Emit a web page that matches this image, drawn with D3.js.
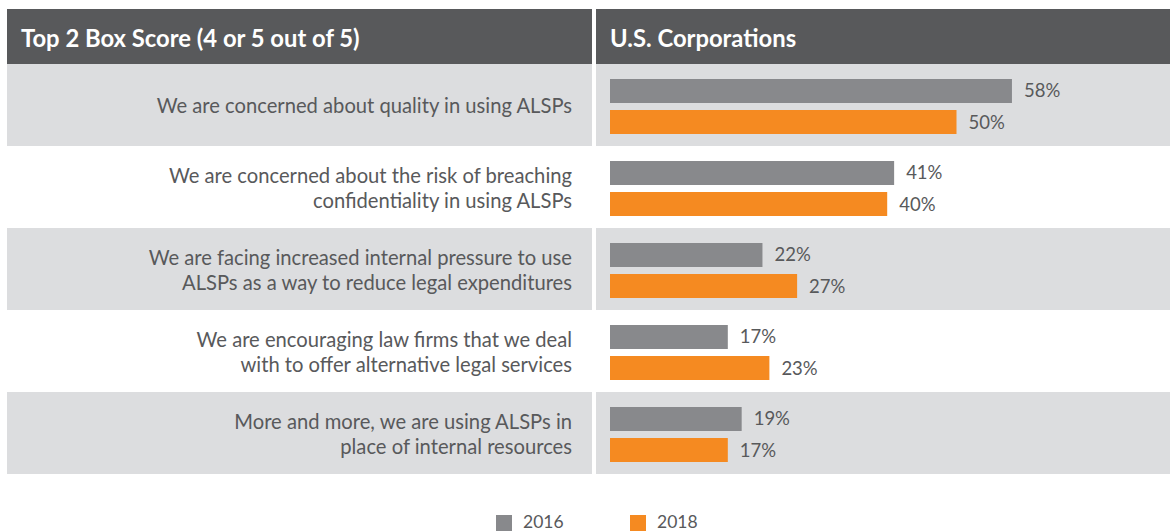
<!DOCTYPE html>
<html>
<head>
<meta charset="utf-8">
<script src="https://cdn.jsdelivr.net/npm/d3@7"></script>
<style>
	body { margin: 0; background: #fff; }
	text { font-family: Lato, "Open Sans", sans-serif; }
</style>
</head>
<body>
<div id="dataviz-container"></div>
<script>
var categories = [
	["We are concerned about quality in using ALSPs"],
	["We are concerned about the risk of breaching", "confidentiality in using ALSPs"],
	["We are facing increased internal pressure to use", "ALSPs as a way to reduce legal expenditures"],
	["We are encouraging law firms that we deal", "with to offer alternative legal services"],
	["More and more, we are using ALSPs in", "place of internal resources"]
];
var series = ["2016", "2018"];
var values2016 = [58, 41, 22, 17, 19];
var values2018 = [50, 40, 27, 23, 17];
var headers = ["Top 2 Box Score (4 or 5 out of 5)", "U.S. Corporations"];

var width = 1170,
	height = 531,
	textColor = "#58595b",
	headerColor = "#58595b",
	rowColor = "#dcdddf",
	colors = {"2016": "#88898c", "2018": "#f58a21"};

var svg = d3.select("#dataviz-container")
	.append("svg")
	.attr("width", width)
	.attr("height", height)

var rows = categories.map(function(c, i) {
	return {label: c, idx: i, "2016": values2016[i], "2018": values2018[i]};
});

var yScale = d3.scaleBand()
	.domain(d3.range(rows.length))
	.range([64, 474])

var barScale = d3.scaleBand()
	.domain(series)
	.range([15, 70])
	.paddingInner(0.226)

var xScale = d3.scaleLinear()
	.domain([0, 80])
	.range([610, 1164.4])

// header bar
var panels = [{x: 7, w: 585}, {x: 596, w: 574}];
svg.selectAll("rect.header")
	.data(panels)
	.enter()
	.append("rect")
	.attr("class", "header")
	.attr("x", function(d) { return d.x })
	.attr("y", 9)
	.attr("width", function(d) { return d.w })
	.attr("height", 55)
	.style("fill", headerColor)

svg.selectAll("text.header")
	.data(headers)
	.enter()
	.append("text")
	.attr("class", "header")
	.attr("x", function(d, i) { return i == 0 ? 21 : 610 })
	.attr("y", 47)
	.text(function(d) { return d })
	.style("fill", "#fff")
	.style("font-weight", "bold")
	.style("font-size", "23.8px")

var rowGroups = svg.selectAll("g.row")
	.data(rows)
	.enter()
	.append("g")
	.attr("class", "row")
	.attr("transform", function(d) { return "translate(0," + yScale(d.idx) + ")" })

rowGroups.filter(function(d) { return d.idx % 2 == 0 })
	.selectAll("rect.bg")
	.data(panels)
	.enter()
	.append("rect")
	.attr("class", "bg")
	.attr("x", function(d) { return d.x })
	.attr("width", function(d) { return d.w })
	.attr("height", yScale.bandwidth())
	.style("fill", rowColor)

rowGroups.append("text")
	.attr("class", "category")
	.attr("text-anchor", "end")
	.style("font-size", "20.2px")
	.style("fill", textColor)
	.each(function(d) {
		var lines = d.label,
			lineHeight = 25,
			start = yScale.bandwidth() / 2 + 8 - (lines.length - 1) * lineHeight / 2;
		d3.select(this).selectAll("tspan")
			.data(lines)
			.enter()
			.append("tspan")
			.attr("x", 572)
			.attr("y", function(l, j) { return start + j * lineHeight })
			.text(function(l) { return l })
	})

var bars = rowGroups.selectAll("g.bar")
	.data(function(d) { return series.map(function(s) { return {key: s, value: d[s]} }) })
	.enter()
	.append("g")
	.attr("class", "bar")

bars.append("rect")
	.attr("x", xScale(0))
	.attr("y", function(d) { return barScale(d.key) })
	.attr("width", function(d) { return xScale(d.value) - xScale(0) })
	.attr("height", barScale.bandwidth())
	.style("fill", function(d) { return colors[d.key] })

bars.append("text")
	.attr("x", function(d) { return xScale(d.value) + 12 })
	.attr("y", function(d) { return barScale(d.key) + barScale.bandwidth() / 2 + 6.5 })
	.text(function(d) { return d.value + "%" })
	.style("font-size", "18.5px")
	.style("fill", textColor)

// legend (sits at the very bottom edge, as in the original)
var legendX = d3.scaleOrdinal()
	.domain(series)
	.range([496, 630])

var legend = svg.selectAll("g.legend")
	.data(series)
	.enter()
	.append("g")
	.attr("class", "legend")
	.attr("transform", function(d) { return "translate(" + legendX(d) + ",515)" })

legend.append("rect")
	.attr("width", 16)
	.attr("height", 16)
	.style("fill", function(d) { return colors[d] })

legend.append("text")
	.attr("x", 27)
	.attr("y", 12.5)
	.text(function(d) { return d })
	.style("font-size", "17.5px")
	.style("fill", textColor)
</script>
</body>
</html>
